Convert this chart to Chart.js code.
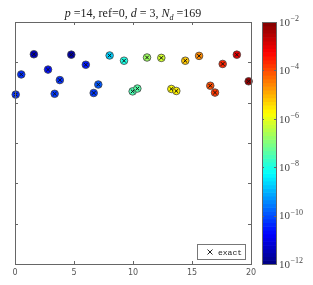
<!DOCTYPE html>
<html>
<head>
<meta charset="utf-8">
<script src="https://cdn.jsdelivr.net/npm/chart.js@4"></script>
<style>
  html, body { margin: 0; padding: 0; background: #fff; }
  canvas { display: block; }
</style>
</head>
<body>
<canvas id="errChart" width="313" height="285"></canvas>
<script>
// data
const xVals = [0.06, 0.53, 1.6, 2.8, 3.36, 3.8, 4.77, 6.0, 6.67, 7.06, 8.02, 9.24, 9.97, 10.37, 11.19, 12.4, 13.25, 13.67, 14.43, 15.6, 16.55, 16.95, 17.6, 18.8, 19.8];
const yVals = [4.20, 4.70, 5.20, 4.82, 4.22, 4.56, 5.19, 4.94, 4.24, 4.45, 5.17, 5.04, 4.28, 4.35, 5.12, 5.11, 4.34, 4.29, 5.04, 5.16, 4.42, 4.25, 4.96, 5.19, 4.53];
// log10 of error (colour value)
const errLog = [-10.3, -10.3, -11.4, -10.6, -10.2, -10.3, -11.6, -10.5, -10.2, -9.9, -8.7, -8.0, -7.5, -7.4, -6.7, -6.2, -5.7, -5.6, -5.2, -4.6, -4.0, -3.8, -3.6, -3.0, -2.2];
const xTicks = [0, 5, 10, 15, 20];
const cbExps = [-12, -10, -8, -6, -4, -2];

const cbMin = -12, cbMax = -2;

function clamp(v) { return Math.max(0, Math.min(1, v)); }
function jet(t) {
    t = clamp(t);
    const r = clamp(1.5 - Math.abs(4 * t - 3));
    const g = clamp(1.5 - Math.abs(4 * t - 2));
    const b = clamp(1.5 - Math.abs(4 * t - 1));
    return 'rgb(' + Math.round(r * 255) + ',' + Math.round(g * 255) + ',' + Math.round(b * 255) + ')';
}

const pts = xVals.map((x, i) => ({ x: x, y: yVals[i] }));
const colors = errLog.map(e => jet((e - cbMin) / (cbMax - cbMin)));

// frame, inner ticks, title, legend box, colorbar
const decor = {
    id: 'decor',
    afterDraw(chart) {
        const c = chart.ctx;
        const a = chart.chartArea;
        const xs = chart.scales.x, ys = chart.scales.y, cb = chart.scales.cb;
        c.save();
        c.strokeStyle = '#666';
        c.lineWidth = 1;
        c.strokeRect(a.left + 0.5, a.top + 0.5, a.right - a.left, a.bottom - a.top);
        c.beginPath();
        xTicks.forEach(v => {
            const px = Math.round(xs.getPixelForValue(v)) + 0.5;
            c.moveTo(px, a.bottom); c.lineTo(px, a.bottom - 3);
            c.moveTo(px, a.top); c.lineTo(px, a.top + 3);
        });
        ys.ticks.forEach(t => {
            const py = Math.round(ys.getPixelForValue(t.value)) + 0.5;
            c.moveTo(a.left, py); c.lineTo(a.left + 3, py);
            c.moveTo(a.right, py); c.lineTo(a.right - 3, py);
        });
        c.stroke();

        // title
        const parts = [
            ['italic 12px "Liberation Serif"', 'p', 0],
            ['12px "Liberation Serif"', ' =14, ref=0, ', 0],
            ['italic 12px "Liberation Serif"', 'd', 0],
            ['12px "Liberation Serif"', ' = 3, ', 0],
            ['italic 12px "Liberation Serif"', 'N', 0],
            ['italic 8px "Liberation Serif"', 'd', 3],
            ['12px "Liberation Serif"', ' =169', 0]
        ];
        let w = 0;
        parts.forEach(p => { c.font = p[0]; w += c.measureText(p[1]).width; });
        let tx = (a.left + a.right) / 2 - w / 2;
        c.fillStyle = '#222';
        c.textBaseline = 'alphabetic';
        parts.forEach(p => {
            c.font = p[0];
            c.fillText(p[1], tx, 17 + p[2]);
            tx += c.measureText(p[1]).width;
        });

        // legend
        c.fillStyle = '#fff';
        c.fillRect(197, 244, 49, 15);
        c.strokeStyle = '#777';
        c.strokeRect(197.5, 244.5, 48, 15);
        c.strokeStyle = '#222';
        c.beginPath();
        c.moveTo(207.5, 249.5); c.lineTo(212.5, 254.5);
        c.moveTo(212.5, 249.5); c.lineTo(207.5, 254.5);
        c.stroke();
        c.fillStyle = '#222';
        c.font = '8px "Liberation Mono"';
        c.textBaseline = 'middle';
        c.fillText('exact', 218, 252.5);

        // colorbar
        const bx = cb.left + 11, bw = 14;
        const nCol = 64;
        for (let k = 0; k < nCol; k++) {
            const e0 = cbMin + (cbMax - cbMin) * k / nCol;
            const e1 = cbMin + (cbMax - cbMin) * (k + 1) / nCol;
            const y0 = cb.getPixelForValue(Math.pow(10, e0));
            const y1 = cb.getPixelForValue(Math.pow(10, e1));
            c.fillStyle = jet((k + 0.5) / nCol);
            c.fillRect(bx, y1, bw, y0 - y1 + 0.6);
        }
        c.strokeStyle = '#666';
        c.strokeRect(bx + 0.5, cb.top + 0.5, bw, cb.bottom - cb.top);
        c.beginPath();
        cbExps.forEach(e => {
            const py = Math.round(cb.getPixelForValue(Math.pow(10, e))) + 0.5;
            c.moveTo(bx, py); c.lineTo(bx + 2, py);
            c.moveTo(bx + bw, py); c.lineTo(bx + bw - 2, py);
        });
        c.stroke();
        c.fillStyle = '#444';
        cbExps.forEach(e => {
            const py = cb.getPixelForValue(Math.pow(10, e));
            c.font = '11px "Liberation Serif"';
            c.textBaseline = 'middle';
            c.fillText('10', bx + bw + 3, py + 1);
            const w10 = c.measureText('10').width;
            c.font = '8px "Liberation Serif"';
            c.fillText('\u2212' + Math.abs(e), bx + bw + 3 + w10 + 0.5, py - 3);
        });
        c.restore();
    }
};

new Chart(document.getElementById('errChart'), {
    type: 'scatter',
    data: {
        datasets: [{
            label: 'exact',
            data: pts,
            pointStyle: 'crossRot',
            pointRadius: 2.6,
            borderColor: '#111',
            borderWidth: 1,
            order: 0,
            clip: false
        },
        {
            label: 'err',
            data: pts,
            pointStyle: 'circle',
            pointRadius: 3.8,
            backgroundColor: colors,
            borderColor: '#444',
            borderWidth: 0.8,
            order: 1,
            clip: false
        }]
    },
    options: {
        responsive: false,
        animation: false,
        events: [],
        layout: { padding: { top: 22, left: 0, right: 0, bottom: 0 } },
        plugins: {
            legend: { display: false },
            title: { display: false },
            tooltip: { enabled: false }
        },
        scales: {
            x: {
                type: 'linear',
                min: 0,
                max: 20,
                afterBuildTicks: s => { s.ticks = xTicks.map(v => ({ value: v })); },
                afterFit: s => { s.height = 21; },
                grid: { display: false, drawTicks: false },
                border: { display: false },
                ticks: { padding: 4, color: '#555', font: { family: 'DejaVu Sans', size: 8 } }
            },
            y: {
                type: 'linear',
                min: 0,
                max: 6,
                afterFit: s => { s.width = 15; },
                grid: { display: false, drawTicks: false },
                border: { display: false },
                ticks: { display: false, stepSize: 1 }
            },
            cb: {
                axis: 'y',
                type: 'logarithmic',
                position: 'right',
                min: 1e-12,
                max: 1e-2,
                afterFit: s => { s.width = 62; },
                grid: { display: false, drawTicks: false },
                border: { display: false },
                ticks: { display: false }
            }
        }
    },
    plugins: [decor]
});
</script>
</body>
</html>
